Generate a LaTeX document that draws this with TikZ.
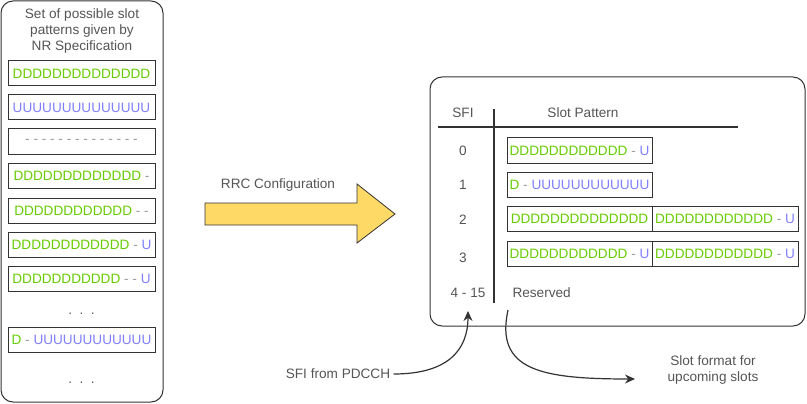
\documentclass[tikz,border=0pt]{standalone}
\usepackage{fontspec}
\setmainfont{Liberation Sans}
\usetikzlibrary{arrows.meta}

\definecolor{dgreen}{HTML}{66CC00}
\definecolor{ublue}{HTML}{7F7FFF}
\definecolor{gapgray}{HTML}{999999}
\definecolor{txtgray}{HTML}{555555}
\definecolor{linegray}{HTML}{333333}
\definecolor{rrcfill}{HTML}{FFD966}
\newcommand{\slotD}[1]{\textcolor{dgreen}{#1}}
\newcommand{\slotU}[1]{\textcolor{ublue}{#1}}
\newcommand{\slotG}[1]{\textcolor{gapgray}{#1}}

\begin{document}
\begin{tikzpicture}[
    x=1pt, y=-1pt,
    font=\fontsize{13.6}{16}\selectfont,
    panel/.style={draw=linegray, line width=1pt, rounded corners=12pt},
    slot/.style={draw=linegray, line width=1pt, minimum width=147pt,
        minimum height=25pt, inner sep=0pt},
    label/.style={text=txtgray, align=center},
    rule/.style={draw=linegray, line width=1.2pt},
    flow/.style={draw=linegray, line width=1.2pt, -{Stealth[length=10pt,width=9pt]}}
]
    \useasboundingbox (0,0) rectangle (807,404);
    % left panel
    \draw[panel] (1,1) rectangle (163,402);
    \node[label] (spec) at (82,31) {Set of possible slot\\patterns given by\\NR Specification};
    \node[slot] (p1) at (81.5,73.5) {\slotD{DDDDDDDDDDDDDD}};
    \node[slot] (p2) at (81.5,107.5) {\slotU{UUUUUUUUUUUUUU}};
    \node[slot] (p3) at (81.5,141.5) {\slotG{- - - - - - - - - - - - - -}};
    \node[slot] (p4) at (81.5,175.5) {\slotD{DDDDDDDDDDDDD} \slotG{-}};
    \node[slot] (p5) at (81.5,210.5) {\slotD{DDDDDDDDDDDD} \slotG{- -}};
    \node[slot] (p6) at (81.5,245) {\slotD{DDDDDDDDDDDD} \slotG{-} \slotU{U}};
    \node[slot] (p7) at (81.5,279) {\slotD{DDDDDDDDDDD} \slotG{- -} \slotU{U}};
    \node[label] (dots1) at (81.5,314) {.\ \ .\ \ .};
    \node[slot] (p8) at (81.5,339.5) {\slotD{D} \slotG{-} \slotU{UUUUUUUUUUUU}};
    \node[label] (dots2) at (81.5,383) {.\ \ .\ \ .};

    % RRC arrow
    \node[label] (rrc) at (278,185) {RRC Configuration};
    \draw[draw=linegray, fill=rrcfill, line width=0.8pt] (205,203) -- (357,203)
        -- (357,184) -- (395,214) -- (357,243) -- (357,225) -- (205,225) -- cycle;

    % right panel
    \draw[panel] (430,77) rectangle (805,326);
    \node[label] (sfihead) at (463,113) {SFI};
    \node[label] (pathead) at (583,113) {Slot Pattern};
    \draw[rule] (438,127) -- (738,127);
    \draw[rule] (494,109) -- (494,303);
    \node[label] (sfi0) at (463,151) {0};
    \node[label] (sfi1) at (463,185) {1};
    \node[label] (sfi2) at (463,220) {2};
    \node[label] (sfi3) at (463,258) {3};
    \node[label] (sfi4) at (468,293) {4 - 15};
    \node[slot, minimum width=145pt] (s0) at (579.5,150.5) {\slotD{DDDDDDDDDDDD} \slotG{-} \slotU{U}};
    \node[slot, minimum width=145pt] (s1) at (579.5,185) {\slotD{D} \slotG{-} \slotU{UUUUUUUUUUUU}};
    \node[slot, minimum width=145pt] (s2a) at (579.5,219) {\slotD{DDDDDDDDDDDDDD}};
    \node[slot, minimum width=146pt] (s2b) at (725,219) {\slotD{DDDDDDDDDDDD} \slotG{-} \slotU{U}};
    \node[slot, minimum width=145pt] (s3a) at (579.5,253.5) {\slotD{DDDDDDDDDDDD} \slotG{-} \slotU{U}};
    \node[slot, minimum width=146pt] (s3b) at (725,253.5) {\slotD{DDDDDDDDDDDD} \slotG{-} \slotU{U}};
    \node[label, anchor=west] (resv) at (509,293) {Reserved};

    % SFI in, format out
    \node[label] (pdcch) at (338,374) {SFI from PDCCH};
    \node[label] (upcoming) at (713,370) {Slot format for\\upcoming slots};
    \coordinate (sfitip) at (468,311);
    \coordinate (resvtail) at (508,310);
    \coordinate (fmttip) at (635,379);
    \draw[flow] (pdcch.east) .. controls (448,374) and (468,350) .. (sfitip);
    \draw[flow] (resvtail) .. controls (495,370) and (540,379) .. (fmttip);
\end{tikzpicture}
\end{document}
